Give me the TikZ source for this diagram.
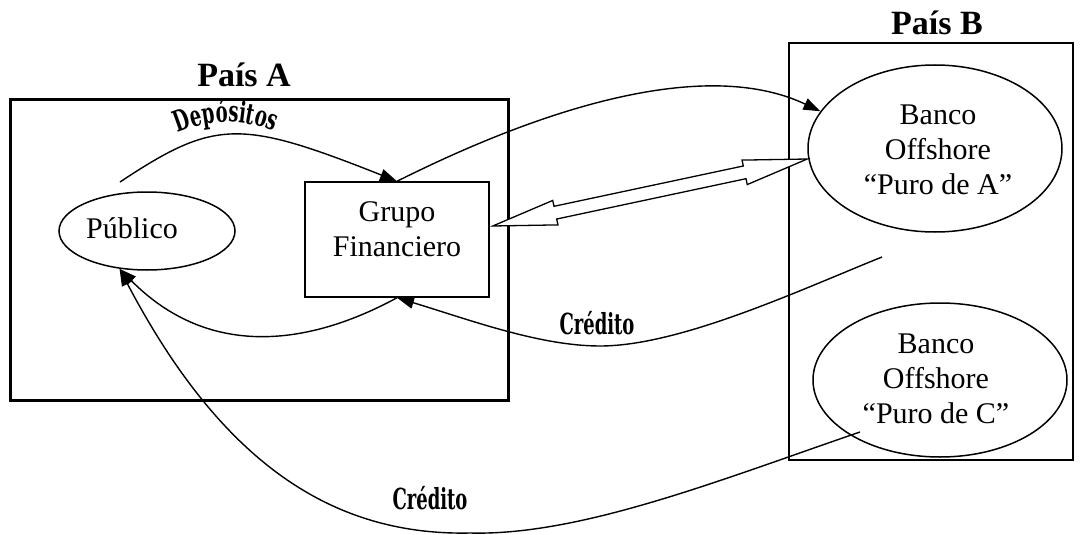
\documentclass[tikz,border=0pt]{standalone}
\usepackage{fontspec}
\setmainfont{Liberation Serif}
\newfontfamily\wordart{DejaVu Serif}[FakeStretch=0.62]
\usetikzlibrary{arrows.meta,shapes.geometric,calc,decorations.text}

\begin{document}
\begin{tikzpicture}[x=1pt,y=1pt,
  country/.style={draw, inner sep=0pt, rectangle},
  entity/.style={draw, line width=1.5pt, inner sep=0pt},
  oval/.style={entity, ellipse},
  lbl/.style={font=\fontsize{30}{35}\selectfont, align=center, inner sep=0pt},
  title/.style={font=\bfseries\fontsize{34}{40}\selectfont, inner sep=0pt},
  art/.style={font=\wordart\bfseries\fontsize{29}{29}\selectfont, inner sep=0pt},
  conn/.style={line width=1.4pt, -{Triangle[length=17pt,width=12pt]}},
  wide/.style={line width=1.3pt, fill=white, line join=miter}]
\useasboundingbox (0,0) rectangle (1080,-535);

% country frames
\node[country, line width=3pt, minimum width=498, minimum height=300] (paisA) at (259,-250) {};
\node[country, line width=2pt, minimum width=284, minimum height=417] (paisB) at (931,-251.5) {};
\node[title, anchor=base] (tA) at (244,-87) {País A};
\node[title, anchor=base] (tB) at (937,-35) {País B};

% actors
\node[oval, minimum width=176, minimum height=78] (pub) at (147,-231) {};
\node[entity, minimum width=184, minimum height=115] (grupo) at (397,-239.5) {};
\node[oval, minimum width=254, minimum height=167] (bancoA) at (935,-148.5) {};
\node[oval, minimum width=254, minimum height=154] (bancoC) at (940,-380) {};

\node[lbl, anchor=base] (pubT) at (132,-238) {Público};
\node[lbl] (grupoT) at (397,-229.5) {Grupo\\Financiero};
\node[lbl] (bancoAT) at (938,-150) {Banco\\Offshore\\“Puro de A”};
\node[lbl] (bancoCT) at (936,-379) {Banco\\Offshore\\“Puro de C”};

% free ends of connectors
\coordinate (depStart) at (120,-182);
\coordinate (credAStart) at (882,-257);
\coordinate (credCStart) at (860,-432);

% deposits into the financial group, with the arched word above the arc
\draw[conn] (depStart) .. controls (215,-119) and (240,-119) .. (grupo.north);
\path[decorate, decoration={text along path, text align=center,
  text={|\wordart\bfseries\fontsize{29}{29}\selectfont|Depósitos}}]
  (166,-138) .. controls (205,-118) and (245,-116) .. (286,-137);

% group to offshore bank A
\draw[conn] (grupo.north) .. controls (470,-145) and (680,-45) .. (bancoA.162);

% two-way transfer
\coordinate (L) at ($(grupo.east)+(3,13.5)$);
\coordinate (R) at ($(bancoA.west)+(0,-10.5)$);
\draw[wide] (L)
  -- ($(L)!64pt!(R)!12.5pt!90:(R)$)
  -- ($(L)!64pt!(R)!6.5pt!90:(R)$)
  -- ($(R)!64pt!(L)!6.5pt!-90:(L)$)
  -- ($(R)!64pt!(L)!12.5pt!-90:(L)$)
  -- (R)
  -- ($(R)!64pt!(L)!12.5pt!90:(L)$)
  -- ($(R)!64pt!(L)!6.5pt!90:(L)$)
  -- ($(L)!64pt!(R)!6.5pt!-90:(R)$)
  -- ($(L)!64pt!(R)!12.5pt!-90:(R)$)
  -- cycle;

% credit from bank A back to the group
\draw[conn] (credAStart) .. controls (800,-290) and (680,-346) .. (600,-346)
  .. controls (540,-346) and (470,-320) .. (grupo.south);
\node[art, anchor=base] (credA) at (597,-334) {Crédito};

% group lends to the public
\draw[conn] (grupo.south) .. controls (310,-345) and (210,-360) .. (pub.234);

% credit from bank C straight to the public
\draw[conn] (credCStart) .. controls (720,-480) and (580,-536) .. (470,-533)
  .. controls (330,-536) and (220,-460) .. (pub.234);
\node[art, anchor=base] (credC) at (430,-509) {Crédito};
\end{tikzpicture}
\end{document}
